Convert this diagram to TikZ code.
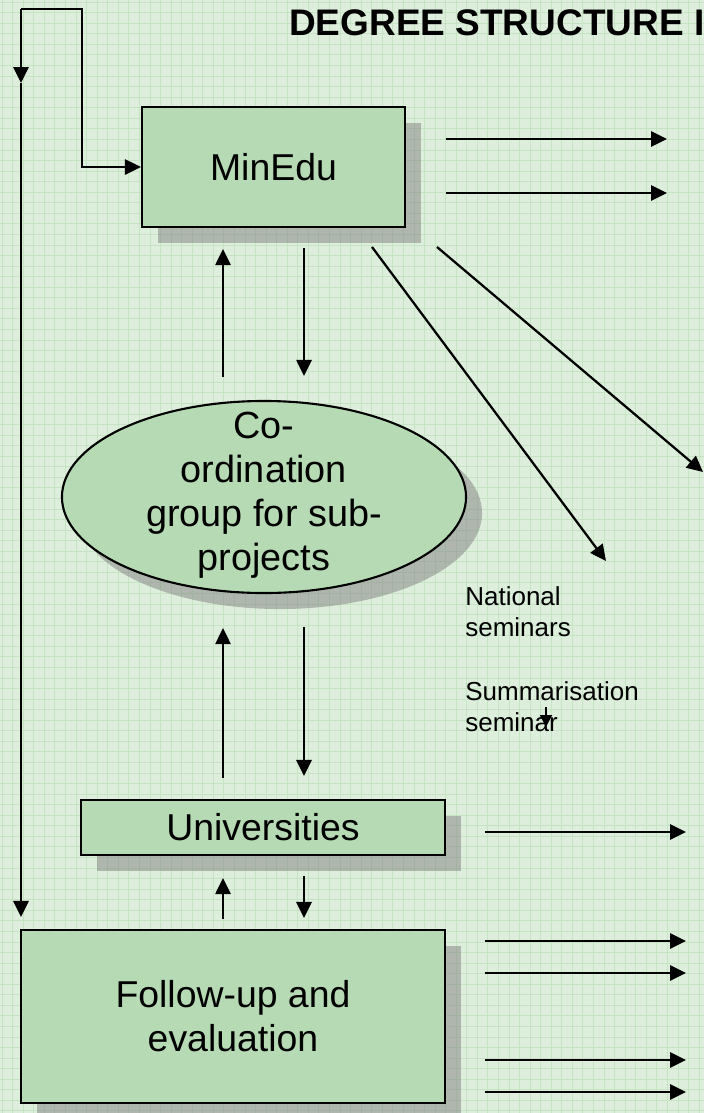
\documentclass[tikz,border=0pt]{standalone}
\usepackage{fontspec}
\setmainfont{Liberation Sans}
\usepackage{tikz}
\usetikzlibrary{arrows.meta,positioning,calc,shapes.geometric,shadows}
\definecolor{bggreen}{HTML}{DEEEDC}
\definecolor{gridgreen}{HTML}{C6E3C3}
\definecolor{boxgreen}{HTML}{B6DBB4}
\tikzset{
  boxshadow/.style={drop shadow={shadow xshift=0.4cm, shadow yshift=-0.4cm, fill=gray, opacity=0.5}},
  boxnode/.style={rectangle, draw=black, line width=1.5pt, fill=boxgreen, align=center,
                  font=\fontsize{26.6}{31.3}\selectfont, inner sep=0pt, boxshadow},
  ovalnode/.style={ellipse, draw=black, line width=1.5pt, fill=boxgreen, inner sep=0pt,
                   minimum width=10.1cm, minimum height=4.8cm, boxshadow},
  lbl/.style={align=center, inner sep=0pt, font=\fontsize{26.9}{31.3}\selectfont},
  smalltxt/.style={align=left, inner sep=0pt, anchor=north west, font=\fontsize{18.5}{22}\selectfont},
  titletxt/.style={inner sep=0pt, anchor=base west, font=\fontsize{26.3}{32}\selectfont\bfseries},
  gridline/.style={draw=gridgreen, line width=0.6pt},
  arr/.style={-{Triangle[length=0.4cm, width=0.38cm]}, line width=1.6pt},
  smallarr/.style={-{Triangle[length=0.3cm, width=0.3cm]}, line width=1.3pt},
}
\begin{document}
\begin{tikzpicture}[x=0.025cm, y=-0.025cm]
  \useasboundingbox (0,0) rectangle (704,1113);
  \clip (0,0) rectangle (704,1113);
  \fill[bggreen] (0,0) rectangle (704,1113);
  \foreach \gx in {0,...,66}
    \draw[gridline] ({2.1+\gx*10.56},0) -- ++(0,1113);
  \foreach \gy in {0,...,105}
    \draw[gridline] (0,{2.1+\gy*10.56}) -- ++(704,0);

  \node[titletxt] (title) at (289,35) {DEGREE STRUCTURE I};

  \node[boxnode, minimum width=6.575cm, minimum height=3cm] (minedu) at (273.5,167) {MinEdu};
  \node[ovalnode] (cogroup) at (264,497) {};
  \node[lbl] (cotext) at (264,495) {Co-\\ordination\\group for sub-\\projects};
  \node[boxnode, minimum width=9.1cm, minimum height=1.375cm] (univ) at (263,827.5) {Universities};
  \node[boxnode, minimum width=10.6cm, minimum height=4.325cm] (follow) at (233,1016.5) {Follow-up and~\\evaluation};

  \node[smalltxt] (natsem) at (465,586) {National\\seminars};
  \node[smalltxt] (sumsem) at (465,681) {Summarisation\\seminar};

  \coordinate (upx) at (223,0);
  \coordinate (dnx) at (304,0);
  \coordinate (lpA) at (21,9);
  \coordinate (lpB) at (82,9);
  \coordinate (lpM) at (21,83);

  % loop on the left
  \draw[arr] (lpA) -- (lpB) |- (minedu.west);
  \draw[arr] (lpA) -- (lpM);
  \draw[arr, shorten >=0.3cm] (lpM) -- (lpA |- follow.north);

  % MinEdu and the co-ordination group
  \draw[arr, shorten <=0.575cm, shorten >=0.525cm] (upx |- cogroup.north) -- (upx |- minedu.south);
  \draw[arr, shorten <=0.5cm, shorten >=0.6cm] (dnx |- minedu.south) -- (dnx |- cogroup.north);

  % co-ordination group and universities
  \draw[arr, shorten <=0.525cm, shorten >=0.85cm] (upx |- univ.north) -- (upx |- cogroup.south);
  \draw[arr, shorten <=0.825cm, shorten >=0.575cm] (dnx |- cogroup.south) -- (dnx |- univ.north);

  % universities and follow-up
  \draw[arr, shorten <=0.25cm, shorten >=0.55cm] (upx |- follow.north) -- (upx |- univ.south);
  \draw[arr, shorten <=0.5cm, shorten >=0.275cm] (dnx |- univ.south) -- (dnx |- follow.north);

  % outgoing arrows
  \coordinate (m1) at (667,139);
  \coordinate (m2) at (667,193);
  \draw[arr, shorten <=1cm] (minedu.east |- m1) -- (m1);
  \draw[arr, shorten <=1cm] (minedu.east |- m2) -- (m2);
  \coordinate (d1s) at (372,247);
  \coordinate (d1e) at (606,561);
  \coordinate (d2s) at (437,247);
  \coordinate (d2e) at (703,472);
  \draw[arr] (d1s) -- (d1e);
  \draw[arr] (d2s) -- (d2e);
  \coordinate (u1) at (686,832);
  \draw[arr, shorten <=0.975cm] (univ.east |- u1) -- (u1);
  \foreach \fy [count=\fk] in {941,973,1060,1092} {
    \coordinate (f\fk) at (686,\fy);
    \draw[arr, shorten <=0.975cm] (follow.east |- f\fk) -- (f\fk);
  }

  \coordinate (s1) at (546,707);
  \coordinate (s2) at (546,727);
  \draw[smallarr] (s1) -- (s2);
\end{tikzpicture}
\end{document}
